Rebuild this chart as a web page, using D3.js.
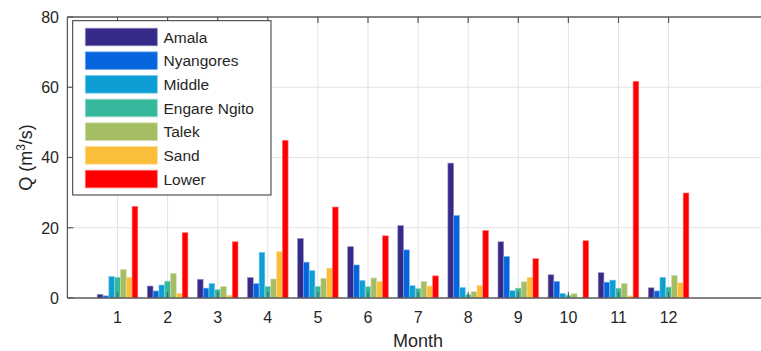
<!DOCTYPE html>
<html>
<head>
<meta charset="utf-8">
<script src="https://cdn.jsdelivr.net/npm/d3@7"></script>
<style>
  body { margin: 0; background: #fff; }
  text { font-family: "Liberation Sans", Arial, sans-serif; fill: #262626; }
</style>
</head>
<body>
<svg id="chart" width="761" height="351"></svg>
<script>
// data
var months = [1, 2, 3, 4, 5, 6, 7, 8, 9, 10, 11, 12]
var seriesNames = ["Amala", "Nyangores", "Middle", "Engare Ngito", "Talek", "Sand", "Lower"]
var seriesColors = ["#352a87", "#0665dc", "#0e9ed6", "#37b89d", "#a5be64", "#fbbe3a", "#ff0000"]

var amala      = [1.0, 3.4, 5.3, 5.8, 16.9, 14.6, 20.6, 38.4, 16.0, 6.6, 7.2, 2.9]
var nyangores  = [0.6, 2.0, 2.8, 4.1, 10.2, 9.4, 13.7, 23.5, 11.8, 4.7, 4.5, 2.0]
var middle     = [6.1, 3.7, 4.1, 13.0, 7.8, 5.0, 3.5, 3.0, 2.1, 1.3, 5.1, 5.9]
var engare     = [5.9, 4.8, 2.4, 3.3, 3.3, 3.2, 2.7, 1.0, 2.8, 0.8, 2.8, 3.1]
var talek      = [8.1, 7.0, 3.3, 5.4, 5.6, 5.7, 4.7, 1.8, 4.6, 1.2, 4.1, 6.4]
var sand       = [5.9, 1.3, 0.8, 13.2, 8.5, 4.7, 3.4, 3.5, 5.9, 0.2, 0.6, 4.3]
var lower      = [26.1, 18.6, 16.0, 44.9, 25.9, 17.7, 6.3, 19.2, 11.2, 16.3, 61.7, 29.9]

var yTicks = [0, 20, 40, 60, 80]

var allSeries = [amala, nyangores, middle, engare, talek, sand, lower]

document.addEventListener('DOMContentLoaded', function () {
    drawChart()
})

function drawChart() {
    const svg = d3.select("#chart")
    const left = 67.4, top = 17, bottom = 298
    const step = 50.1
    const right = left + 14 * step

    const x = d3.scaleLinear().domain([0, 14]).range([left, right])
    const y = d3.scaleLinear().domain([0, 80]).range([bottom, top])

    const groupW = 0.81 * step
    const inner = d3.scaleBand()
        .domain(seriesNames)
        .range([-groupW / 2, groupW / 2])
        .paddingInner(0.02)

    // grid
    svg.append('g')
        .selectAll('line.vgrid')
        .data(months)
        .enter().append('line')
        .attr("x1", d => x(d)).attr("x2", d => x(d))
        .attr("y1", top).attr("y2", bottom)
        .style('stroke', '#e3e3e3')
        .style('stroke-width', 1)

    svg.append('g')
        .selectAll('line.hgrid')
        .data(yTicks.filter(t => t > 0 && t < 80))
        .enter().append('line')
        .attr("x1", left).attr("x2", right)
        .attr("y1", d => y(d)).attr("y2", d => y(d))
        .style('stroke', '#e3e3e3')
        .style('stroke-width', 1)

    // bars
    let rows = []
    allSeries.forEach((s, si) => {
        s.forEach((v, mi) => {
            rows.push({ name: seriesNames[si], color: seriesColors[si], month: months[mi], value: v })
        })
    })

    svg.append('g')
        .selectAll('rect')
        .data(rows)
        .enter().append('rect')
        .attr("x", d => x(d.month) + inner(d.name))
        .attr("width", inner.bandwidth())
        .attr("y", d => y(d.value))
        .attr("height", d => y(0) - y(d.value))
        .style('fill', d => d.color)
        .style('stroke', d => d3.interpolateRgb(d.color, "#ffffff")(0.45))
        .style('stroke-width', 0.6)

    // axes box (no right side, picture is cropped)
    const axisColor = '#5a5a5a'
    svg.append('line')
        .attr("x1", left).attr("x2", right).attr("y1", top).attr("y2", top)
        .style('stroke', axisColor).style('stroke-width', 1.3)
    svg.append('line')
        .attr("x1", left).attr("x2", right).attr("y1", bottom).attr("y2", bottom)
        .style('stroke', axisColor).style('stroke-width', 1.3)
    svg.append('line')
        .attr("x1", left).attr("x2", left).attr("y1", top).attr("y2", bottom)
        .style('stroke', axisColor).style('stroke-width', 1.3)

    // ticks (inward)
    const tl = 6
    months.forEach(m => {
        svg.append('line')
            .attr("x1", x(m)).attr("x2", x(m)).attr("y1", top).attr("y2", top + tl)
            .style('stroke', axisColor).style('stroke-width', 1.2)
        svg.append('line')
            .attr("x1", x(m)).attr("x2", x(m)).attr("y1", bottom).attr("y2", bottom - tl)
            .style('stroke', axisColor).style('stroke-width', 1.2)
    })
    yTicks.forEach(t => {
        svg.append('line')
            .attr("x1", left).attr("x2", left + tl).attr("y1", y(t)).attr("y2", y(t))
            .style('stroke', axisColor).style('stroke-width', 1.2)
    })

    // tick labels
    svg.append('g')
        .selectAll('text')
        .data(months)
        .enter().append('text')
        .attr("x", d => x(d))
        .attr("y", 323)
        .attr("text-anchor", "middle")
        .style("font-size", "16px")
        .text(d => d)

    svg.append('g')
        .selectAll('text')
        .data(yTicks)
        .enter().append('text')
        .attr("x", 59)
        .attr("y", d => y(d) + 5.8)
        .attr("text-anchor", "end")
        .style("font-size", "16px")
        .text(d => d)

    // axis titles
    svg.append('text')
        .attr("x", (left + right) / 2)
        .attr("y", 347)
        .attr("text-anchor", "middle")
        .style("font-size", "18px")
        .text("Month")

    let yl = svg.append('text')
        .attr("transform", `translate(32, ${(top + bottom) / 2}) rotate(-90)`)
        .attr("text-anchor", "middle")
        .style("font-size", "18px")
    yl.append('tspan').text("Q (m")
    yl.append('tspan').attr("dy", -7).style("font-size", "12px").text("3")
    yl.append('tspan').attr("dy", 7).text("/s)")

    // legend
    const lg = svg.append('g')
    lg.append('rect')
        .attr("x", 72.7).attr("y", 20.7)
        .attr("width", 198.3).attr("height", 174.3)
        .style('fill', '#ffffff')
        .style('stroke', '#333333')
        .style('stroke-width', 1)

    const items = lg.selectAll('g.item')
        .data(seriesNames)
        .enter().append('g')
        .attr("transform", (d, i) => `translate(0, ${37 + i * 23.67})`)

    items.append('rect')
        .attr("x", 85.3).attr("y", -8.8)
        .attr("width", 72).attr("height", 17.6)
        .style('fill', (d, i) => seriesColors[i])
        .style('stroke', (d, i) => d3.interpolateRgb(seriesColors[i], "#ffffff")(0.45))
        .style('stroke-width', 0.8)

    items.append('text')
        .attr("x", 163.5).attr("y", 5.5)
        .style("font-size", "15.5px")
        .text(d => d)
}
</script>
</body>
</html>
